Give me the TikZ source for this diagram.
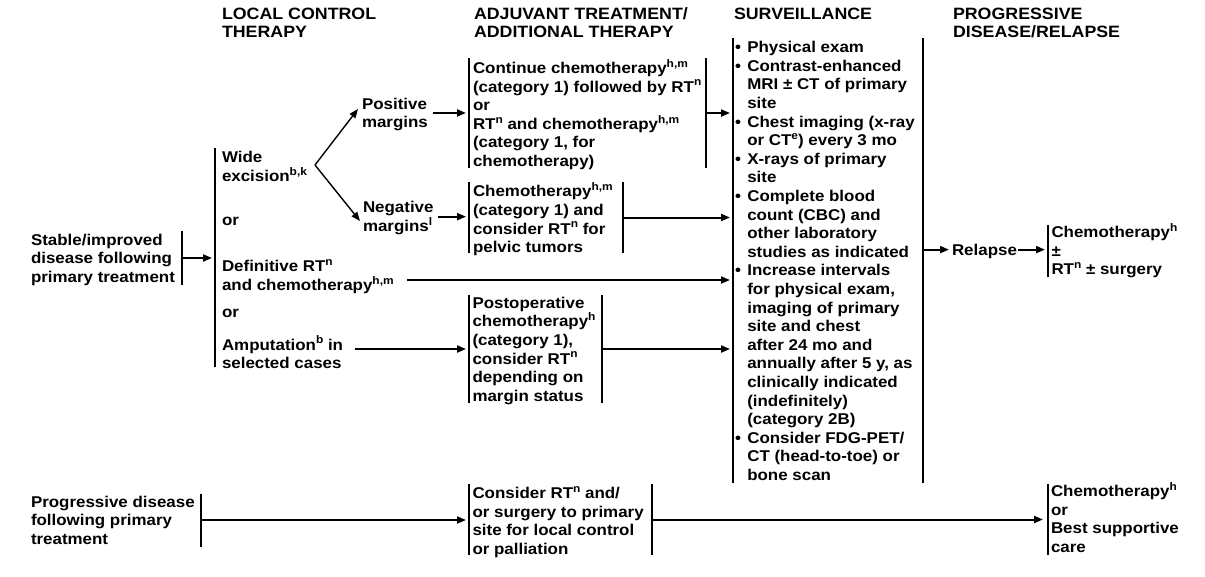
\documentclass[tikz,border=0pt]{standalone}
\usepackage{fontspec}
\setmainfont{Liberation Sans}[FakeStretch=1.085]
\usetikzlibrary{arrows.meta}
\newcommand\sps[1]{\raisebox{6.3pt}{\fontsize{11}{11}\selectfont #1}}
\newcommand\fs{\fontsize{15.6}{18.6}\selectfont\bfseries\lineskiplimit=-20pt\relax}
\newcommand\hs{\fontsize{16.4}{17.7}\selectfont\bfseries\lineskiplimit=-20pt\relax}
\newcommand\st{\rule{0pt}{14pt}}
\newcommand\bul{\makebox[12.3pt][l]{•}}
\newcommand\ind{\hspace*{12.3pt}}
\begin{document}
\begin{tikzpicture}[x=1pt,y=-1pt,
  txt/.style={anchor=north west, inner sep=0pt, outer sep=0pt, align=left, font=\fs},
  hdr/.style={txt, font=\hs},
  brk/.style={rectangle, draw=none, inner sep=0pt, outer sep=0pt},
  bl/.style={line width=2pt},
  arr/.style={line width=2pt, -{Triangle[length=9pt,width=7pt]}, shorten >=3pt},
  darr/.style={line width=1.4pt, -{Triangle[length=9pt,width=7pt]}}]
\fill[white] (0,0) rectangle (1205,576);
\useasboundingbox (0,0) rectangle (1205,576);

% headers
\node[hdr] (h1) at (222,5.5) {\st LOCAL CONTROL\\THERAPY};
\node[hdr] (h2) at (474,5.5) {\st ADJUVANT TREATMENT/\\ADDITIONAL THERAPY};
\node[hdr] (h3) at (734,5.5) {\st SURVEILLANCE};
\node[hdr] (h4) at (953,5.5) {\st PROGRESSIVE\\DISEASE/RELAPSE};

% bracket boxes
\node[brk, minimum width=154pt, minimum height=54pt] (Sb) at (105,258) {};
\node[brk, minimum width=170pt, minimum height=219pt] (Lb) at (300,257.5) {};
\node[brk, minimum width=237pt, minimum height=110pt] (A) at (587.5,113) {};
\node[brk, minimum width=154pt, minimum height=71pt] (B) at (546,217.5) {};
\node[brk, minimum width=133pt, minimum height=108pt] (C) at (535.5,349) {};
\node[brk, minimum width=190pt, minimum height=445pt] (S) at (828,260.5) {};
\node[brk, minimum width=152pt, minimum height=52pt] (R) at (1124,250.5) {};
\node[brk, minimum width=174pt, minimum height=53pt] (P) at (114,520) {};
\node[brk, minimum width=183pt, minimum height=71pt] (D) at (560.5,519.5) {};
\node[brk, minimum width=152pt, minimum height=71pt] (E) at (1124,519.5) {};

\draw[bl] (Sb.north east) -- (Sb.south east);
\draw[bl] (Lb.north west) -- (Lb.south west);
\draw[bl] (A.north west) -- (A.south west) (A.north east) -- (A.south east);
\draw[bl] (B.north west) -- (B.south west) (B.north east) -- (B.south east);
\draw[bl] (C.north west) -- (C.south west) (C.north east) -- (C.south east);
\draw[bl] (S.north west) -- (S.south west) (S.north east) -- (S.south east);
\draw[bl] (R.north west) -- (R.south west);
\draw[bl] (P.north east) -- (P.south east);
\draw[bl] (D.north west) -- (D.south west) (D.north east) -- (D.south east);
\draw[bl] (E.north west) -- (E.south west);

% texts
\node[txt] (stab) at (31,231) {\st Stable/improved\\disease following\\primary treatment};
\node[txt] (wide) at (222,148.7) {\st Wide\\excision\sps{b,k}};
\node[txt] (or1) at (222,211) {\st or};
\node[txt] (def) at (222,257.7) {\st Definitive RT\sps{n}\\and chemotherapy\sps{h,m}};
\node[txt] (or2) at (222,303) {\st or};
\node[txt] (amp) at (222,336) {\st Amputation\sps{b} in\\selected cases};
\node[txt] (pos) at (362,95) {\st Positive\\margins};
\node[txt] (neg) at (363,198.7) {\st Negative\\margins\sps{l}};
\node[txt] (At) at (473,59.3) {\st Continue chemotherapy\sps{h,m}\\(category 1) followed by RT\sps{n}\\or\\RT\sps{n} and chemotherapy\sps{h,m}\\(category 1, for\\chemotherapy)};
\node[txt] (Bt) at (473,182.7) {\st Chemotherapy\sps{h,m}\\(category 1) and\\consider RT\sps{n} for\\pelvic tumors};
\node[txt] (Ct) at (472.5,294.3) {\st Postoperative\\chemotherapy\sps{h}\\(category 1),\\consider RT\sps{n}\\depending on\\margin status};
\node[txt] (St) at (735,38.7) {\st\bul Physical exam\\\bul Contrast-enhanced\\\ind MRI ± CT of primary\\\ind site\\\bul Chest imaging (x-ray\\\ind or CT\sps{e}) every 3 mo\\\bul X-rays of primary\\\ind site\\\bul Complete blood\\\ind count (CBC) and\\\ind other laboratory\\\ind studies as indicated\\\bul Increase intervals\\\ind for physical exam,\\\ind imaging of primary\\\ind site and chest\\\ind after 24 mo and\\\ind annually after 5 y, as\\\ind clinically indicated\\\ind (indefinitely)\\\ind (category 2B)\\\bul Consider FDG-PET/\\\ind CT (head-to-toe) or\\\ind bone scan};
\node[txt] (rel) at (952,241) {\st Relapse};
\node[txt] (Rt) at (1051.5,223.3) {\st Chemotherapy\sps{h}\\±\\RT\sps{n} ± surgery};
\node[txt] (prog) at (31,493.3) {\st Progressive disease\\following primary\\treatment};
\node[txt] (Dt) at (472.5,484.7) {\st Consider RT\sps{n} and/\\or surgery to primary\\site for local control\\or palliation};
\node[txt] (Et) at (1051,482.3) {\st Chemotherapy\sps{h}\\or\\Best supportive\\care};

% connectors
\draw[arr] (Sb.east) -- (Sb.east -| Lb.west);
\coordinate (V) at (315,165);
\coordinate (Vp) at (358,109);
\coordinate (Vn) at (360,221);
\draw[darr] (V) -- (Vp);
\draw[darr] (V) -- (Vn);
\draw[arr] ([xshift=5pt]pos.east) -- (pos.east -| A.west);
\draw[arr] ([xshift=4pt]neg.east) -- (neg.east -| B.west);
\draw[arr] (A.east) -- (A.east -| S.west);
\draw[arr] (B.east) -- (B.east -| S.west);
\coordinate (D0) at (407,280);
\draw[arr] (D0) -- (D0 -| S.west);
\draw[arr] ([xshift=12pt]amp.east |- C.west) -- (C.west);
\draw[arr] (C.east) -- (C.east -| S.west);
\draw[arr] (S.east |- rel.west) -- (rel.west);
\draw[arr] ([xshift=1pt]rel.east) -- (rel.east -| R.west);
\draw[arr] (P.east) -- (P.east -| D.west);
\draw[arr, shorten >=5pt] (D.east) -- (D.east -| E.west);
\end{tikzpicture}
\end{document}
